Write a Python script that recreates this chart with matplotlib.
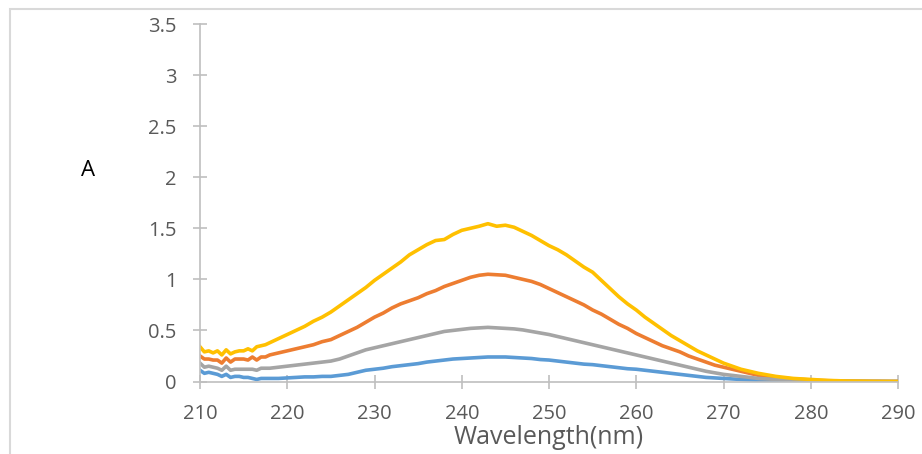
import numpy as np
import matplotlib.pyplot as plt
from matplotlib.patches import Rectangle
from matplotlib.ticker import FuncFormatter

# wavelength grid: 0.5 nm steps over the noisy start, then 1 nm
wavelength = list(np.arange(210, 218, 0.5)) + list(range(218, 291))

blue = [0.11, 0.08, 0.09, 0.08, 0.07, 0.05, 0.07, 0.04, 0.05, 0.05, 0.04, 0.04, 0.03, 0.02, 0.03, 0.03,
        0.03, 0.03, 0.035, 0.04, 0.045, 0.045, 0.05, 0.05, 0.06, 0.07, 0.09, 0.11, 0.12, 0.13,
        0.145, 0.155, 0.165, 0.175, 0.19, 0.20, 0.21, 0.22, 0.225, 0.23, 0.235, 0.24, 0.24, 0.24,
        0.235, 0.23, 0.225, 0.215, 0.21, 0.20, 0.19, 0.18, 0.17, 0.165, 0.155, 0.145, 0.135, 0.125,
        0.12, 0.11, 0.10, 0.09, 0.08, 0.07, 0.06, 0.05, 0.04, 0.035, 0.03, 0.025, 0.02, 0.015,
        0.012, 0.01, 0.008, 0.006, 0.005, 0.004, 0.003, 0.002, 0.002, 0.001, 0.001, 0.001, 0.0,
        0.0, 0.0, 0.0, 0.0]

orange = [0.25, 0.22, 0.22, 0.21, 0.21, 0.18, 0.23, 0.19, 0.22, 0.22, 0.22, 0.21, 0.24, 0.21, 0.24, 0.24,
          0.26, 0.28, 0.30, 0.32, 0.34, 0.36, 0.39, 0.41, 0.45, 0.49, 0.53, 0.58, 0.63, 0.67,
          0.72, 0.76, 0.79, 0.82, 0.86, 0.89, 0.93, 0.96, 0.99, 1.02, 1.04, 1.05, 1.045, 1.04,
          1.02, 1.00, 0.98, 0.95, 0.91, 0.87, 0.83, 0.79, 0.75, 0.70, 0.66, 0.61, 0.56, 0.52,
          0.47, 0.43, 0.39, 0.35, 0.32, 0.29, 0.25, 0.22, 0.19, 0.16, 0.14, 0.12, 0.10, 0.08,
          0.06, 0.05, 0.04, 0.03, 0.025, 0.02, 0.015, 0.01, 0.008, 0.006, 0.004, 0.003, 0.002,
          0.001, 0.001, 0.0, 0.0]

gray = [0.18, 0.14, 0.15, 0.14, 0.13, 0.11, 0.15, 0.11, 0.12, 0.12, 0.12, 0.12, 0.12, 0.11, 0.13, 0.13,
        0.13, 0.14, 0.15, 0.16, 0.17, 0.18, 0.19, 0.20, 0.22, 0.25, 0.28, 0.31, 0.33, 0.35,
        0.37, 0.39, 0.41, 0.43, 0.45, 0.47, 0.49, 0.50, 0.51, 0.52, 0.525, 0.53, 0.525, 0.52,
        0.515, 0.505, 0.49, 0.475, 0.46, 0.44, 0.42, 0.40, 0.38, 0.36, 0.34, 0.32, 0.30, 0.28,
        0.26, 0.24, 0.22, 0.20, 0.18, 0.16, 0.14, 0.12, 0.10, 0.085, 0.07, 0.06, 0.05, 0.04,
        0.03, 0.025, 0.02, 0.015, 0.012, 0.01, 0.008, 0.006, 0.005, 0.004, 0.003, 0.002, 0.002,
        0.001, 0.001, 0.0, 0.0]

yellow = [0.34, 0.29, 0.30, 0.28, 0.30, 0.26, 0.31, 0.27, 0.29, 0.30, 0.30, 0.32, 0.30, 0.34, 0.35, 0.36,
          0.38, 0.42, 0.46, 0.50, 0.54, 0.59, 0.63, 0.68, 0.74, 0.80, 0.86, 0.92, 0.99, 1.05,
          1.11, 1.17, 1.24, 1.29, 1.34, 1.38, 1.39, 1.44, 1.48, 1.50, 1.52, 1.545, 1.52, 1.53,
          1.51, 1.47, 1.43, 1.38, 1.33, 1.29, 1.24, 1.18, 1.12, 1.07, 0.99, 0.91, 0.83, 0.76,
          0.70, 0.63, 0.57, 0.51, 0.45, 0.40, 0.35, 0.30, 0.26, 0.22, 0.18, 0.15, 0.12, 0.10,
          0.08, 0.065, 0.05, 0.04, 0.03, 0.025, 0.02, 0.015, 0.01, 0.008, 0.005, 0.004, 0.003,
          0.002, 0.001, 0.001, 0.0]

series = [(blue, '#5B9BD5'), (orange, '#ED7D31'), (gray, '#A5A5A5'), (yellow, '#FFC000')]

plt.rcParams['font.family'] = ['Open Sans', 'DejaVu Sans']

fig = plt.figure(figsize=(9.22, 4.54), dpi=100)
ax = fig.add_axes([200 / 922, 1 - 381.5 / 454, 698 / 922, 357.5 / 454])

for vals, col in series:
    ax.plot(wavelength, vals, color=col, lw=2.6, solid_joinstyle='round')

ax.set_xlim(210, 290)
ax.set_ylim(0, 3.5)
ax.set_xticks(range(210, 291, 10))
ax.set_yticks(np.arange(0, 3.51, 0.5))
ax.yaxis.set_major_formatter(FuncFormatter(lambda v, p: '%g' % v))

for s in ['top', 'right']:
    ax.spines[s].set_visible(False)
for s in ['left', 'bottom']:
    ax.spines[s].set_color('#BFBFBF')
    ax.spines[s].set_linewidth(1.2)
ax.tick_params(direction='inout', length=10, width=1.2, color='#BFBFBF',
               labelcolor='#595959', labelsize=14.5)
ax.tick_params(axis='y', pad=12)
ax.tick_params(axis='x', pad=11)

ax.set_xlabel('Wavelength(nm)', fontsize=18, color='#595959', va='center')
ax.xaxis.set_label_coords(0.5, (381.5 - 437) / 357.5)
fig.text(88 / 922, 1 - 170 / 454, 'A', fontsize=16, color='black', ha='center', va='center')

# chart frame (cut off at right/bottom)
fig.patches.append(Rectangle((9.5 / 922, -0.1), 1.2, 1.1 - 9.5 / 454, transform=fig.transFigure,
                             fill=False, edgecolor='#D9D9D9', lw=1.5))

plt.savefig('out.png', dpi=100)
